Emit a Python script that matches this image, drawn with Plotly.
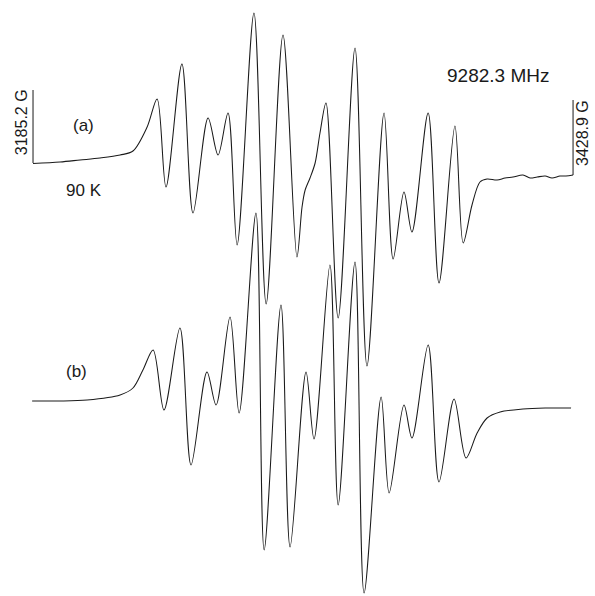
import plotly.graph_objects as go

# Magnetic field (G) and first-derivative EPR signal (arbitrary units)
field_a = [3185.2, 3197.4, 3206.4, 3215.4, 3224.5, 3230.3, 3236.7, 3241.2, 3245.2, 3252.4,
           3257.4, 3264.2, 3268.7, 3273.2, 3277.3, 3284.9, 3290.4, 3298.0, 3304.3, 3306.6,
           3308.0, 3310.2, 3312.5, 3314.7, 3317.4, 3322.9, 3330.5, 3335.9, 3343.6, 3347.7,
           3352.6, 3356.2, 3363.5, 3368.4, 3375.6, 3379.3, 3383.3, 3386.9, 3390.1, 3394.6,
           3398.2, 3401.8, 3406.3, 3409.5, 3412.7, 3416.3, 3419.4, 3423.0, 3425.7, 3428.9]
signal_a = [-0.5, 1, 3, 5, 8, 12, 36, 64, -24, 99,
            -50, 45, 8, 50, -82, 150, -141, 128, -94, -44,
            -27, -15, 0, 30, 60, -155, 115, -203, 50, -96,
            -29, -69, 50, -120, 37, -80, -42, -19, -16, -17,
            -15, -14, -12, -15, -14, -13, -15, -13, -13, -12]

field_b = [3184.8, 3197.4, 3209.6, 3224.5, 3230.3, 3234.8, 3239.4, 3244.3, 3251.5, 3256.5,
           3263.7, 3267.8, 3274.1, 3278.2, 3285.8, 3289.5, 3297.1, 3301.2, 3308.4, 3312.0,
           3319.2, 3322.9, 3330.5, 3334.6, 3342.3, 3345.9, 3352.6, 3356.2, 3363.5, 3368.4,
           3375.2, 3380.6, 3385.6, 3390.1, 3396.0, 3406.3, 3416.3, 3428.0]
signal_b = [0, 0, 1, 6, 13, 31, 51, -9, 73, -64,
            29, -4, 84, -12, 188, -149, 96, -146, 29, -38,
            136, -104, 139, -192, 4, -92, -4, -37, 56, -81,
            2, -57, -32, -17, -11, -8, -7, -7]

field_marks = [3185.2, 3428.9]
mark_labels = ["3185.2 G", "3428.9 G"]
frequency_label = "9282.3 MHz"
temperature_label = "90 K"

offset_a = 238  # vertical offset of spectrum (a) above spectrum (b)

fig = go.Figure()
line_style = dict(color="#1a1a1a", width=1.05, shape="spline", smoothing=0.9)
fig.add_trace(go.Scatter(x=field_a, y=[v + offset_a for v in signal_a], mode="lines",
                         line=line_style, hoverinfo="skip"))
fig.add_trace(go.Scatter(x=field_b, y=signal_b, mode="lines",
                         line=line_style, hoverinfo="skip"))

# field marker bars
fig.add_shape(type="line", x0=field_marks[0], x1=field_marks[0], y0=offset_a, y1=offset_a + 73,
              line=dict(color="#1a1a1a", width=1.0))
fig.add_shape(type="line", x0=field_marks[1], x1=field_marks[1], y0=offset_a - 12, y1=offset_a + 63,
              line=dict(color="#1a1a1a", width=1.0))

font = dict(family="Liberation Sans, Arial, sans-serif", color="#1a1a1a")
ann = [
    dict(text="(a)", x=0.1395, y=0.790, size=17, angle=0),
    dict(text=temperature_label, x=0.141, y=0.681, size=17, angle=0),
    dict(text="(b)", x=0.129, y=0.376, size=17, angle=0),
    dict(text=frequency_label, x=0.837, y=0.874, size=19, angle=0),
    dict(text=mark_labels[0], x=0.0353, y=0.795, size=16, angle=-90),
    dict(text=mark_labels[1], x=0.980, y=0.777, size=16, angle=-90),
]
for a in ann:
    fig.add_annotation(text=a["text"], x=a["x"], y=a["y"], xref="paper", yref="paper",
                       showarrow=False, xanchor="center", yanchor="middle",
                       textangle=a["angle"], font=dict(size=a["size"], **font))

fig.update_layout(
    width=595, height=596,
    margin=dict(l=0, r=0, t=0, b=0),
    paper_bgcolor="white", plot_bgcolor="white",
    showlegend=False,
    xaxis=dict(range=[3170.3, 3438.8], visible=False, fixedrange=True),
    yaxis=dict(range=[-195, 401], visible=False, fixedrange=True),
)

fig.write_html("out.html", post_script="document.body.style.margin='0';",
               config={"displayModeBar": False})
